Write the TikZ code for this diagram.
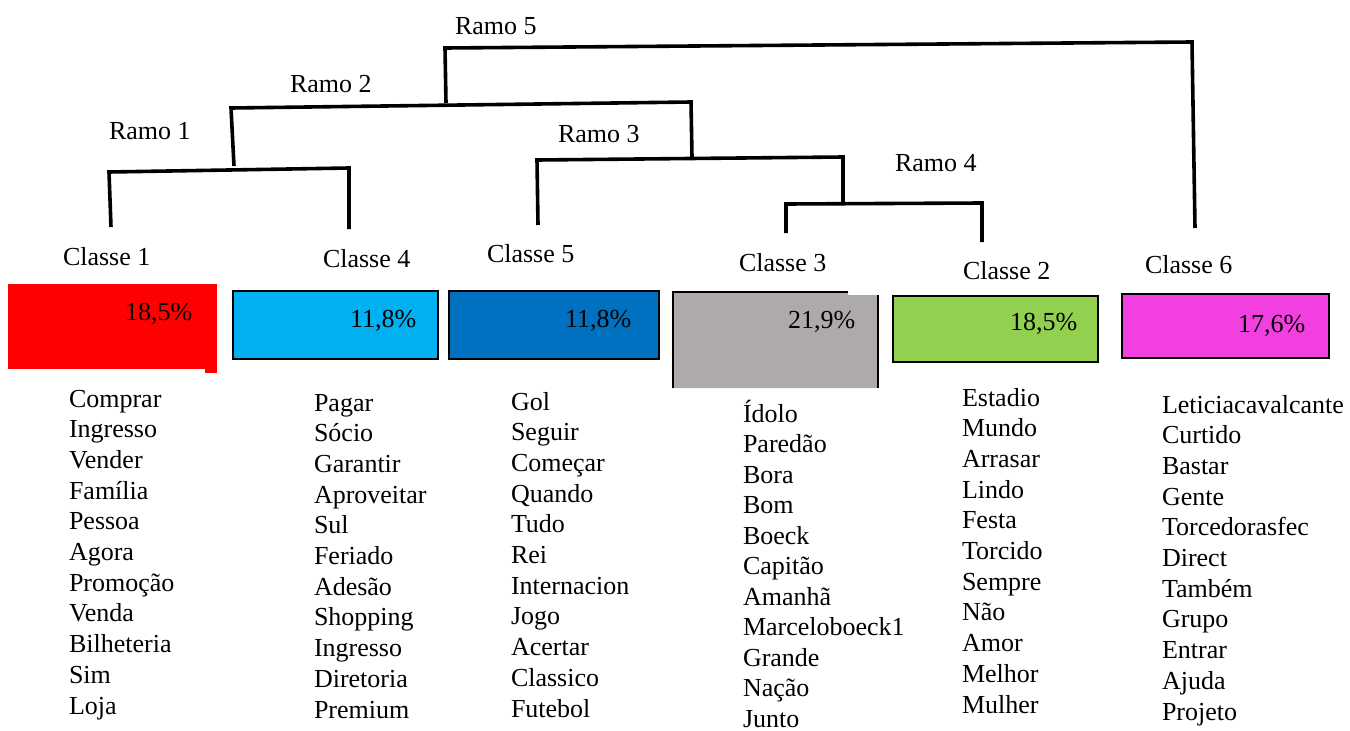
\documentclass[tikz,border=0pt]{standalone}
\usepackage{fontspec}
\setmainfont{Liberation Serif}
\definecolor{cred}{HTML}{FF0000}
\definecolor{ccyan}{HTML}{00B0F0}
\definecolor{cblue}{HTML}{0070C0}
\definecolor{cgray}{HTML}{AEAAAA}
\definecolor{cgreen}{HTML}{92D050}
\definecolor{cmag}{HTML}{F240E0}
\tikzset{
  ramo/.style={line width=3.6pt, line join=miter},
  txt/.style={anchor=base west, inner sep=0pt, outer sep=0pt, font=\fontsize{26}{30.7}\selectfont},
  box/.style={draw=black, line width=1.6pt, inner sep=0pt, outer sep=0pt, anchor=north west},
}
\begin{document}
\begin{tikzpicture}[x=1pt,y=-1pt]
\useasboundingbox (0,0) rectangle (1350,731);
% dendrogram coordinates
\coordinate (r5a) at (446,103); \coordinate (r5b) at (445,48);
\coordinate (r5c) at (1192,42); \coordinate (r5d) at (1195,228);
\coordinate (r2a) at (234,166); \coordinate (r2b) at (231,108);
\coordinate (r2c) at (691,102); \coordinate (r2d) at (692,157);
\coordinate (r1a) at (111,227); \coordinate (r1b) at (109,172);
\coordinate (r1c) at (349,168); \coordinate (r1d) at (349,229);
\coordinate (r3a) at (538,225); \coordinate (r3b) at (537,160);
\coordinate (r3c) at (843,157); \coordinate (r3d) at (843,203);
\coordinate (r4a) at (786,233); \coordinate (r4b) at (786,204);
\coordinate (r4c) at (982,203); \coordinate (r4d) at (982,242);
\draw[ramo] (r5a) -- (r5b) -- (r5c) -- (r5d);
\draw[ramo] (r2a) -- (r2b) -- (r2c) -- (r2d);
\draw[ramo] (r1a) -- (r1b) -- (r1c) -- (r1d);
\draw[ramo] (r3a) -- (r3b) -- (r3c) -- (r3d);
\draw[ramo] (r4a) -- (r4b) -- (r4c) -- (r4d);
% branch labels
\node[txt] (l5) at (455,34) {Ramo 5};
\node[txt] (l2) at (290,92) {Ramo 2};
\node[txt] (l1) at (109,139) {Ramo 1};
\node[txt] (l3) at (558,142) {Ramo 3};
\node[txt] (l4) at (895,171) {Ramo 4};
% class labels
\node[txt] (k1) at (63,265) {Classe 1};
\node[txt] (k4) at (323,267) {Classe 4};
\node[txt] (k5) at (487,262) {Classe 5};
\node[txt] (k3) at (739,271) {Classe 3};
\node[txt] (k2) at (963,279) {Classe 2};
\node[txt] (k6) at (1145,273) {Classe 6};
% boxes
\fill[cred] (8,284) rectangle (217,369);
\fill[cred] (205,368) rectangle (217,373);
\node[box, fill=ccyan, minimum width=205pt, minimum height=68pt] (b4) at (233,291) {};
\node[box, fill=cblue, minimum width=210pt, minimum height=68pt] (b5) at (449,291) {};
\fill[cgray] (673,292) -- (848,292) -- (848,295) -- (878,295) -- (878,388) -- (673,388) -- cycle;
\draw[line width=1.6pt] (673,388) -- (673,292) -- (848,292);
\draw[line width=1.6pt] (878,295) -- (878,388);
\node[box, fill=cgreen, minimum width=205pt, minimum height=66pt] (b2) at (893,296) {};
\node[box, fill=cmag, minimum width=207pt, minimum height=64pt] (b6) at (1122,294) {};
% percentages
\node[txt] (p1) at (125,320) {18,5\%};
\node[txt] (p4) at (350,327) {11,8\%};
\node[txt] (p5) at (565,327) {11,8\%};
\node[txt] (p3) at (788,328) {21,9\%};
\node[txt] (p2) at (1010,330) {18,5\%};
\node[txt] (p6) at (1238,332) {17,6\%};
% word lists
\foreach \w [count=\i] in {Comprar,Ingresso,Vender,Família,Pessoa,Agora,Promoção,Venda,Bilheteria,Sim,Loja}
  \node[txt] (a\i) at (69,{407+(\i-1)*30.7}) {\w};
\foreach \w [count=\i] in {Pagar,Sócio,Garantir,Aproveitar,Sul,Feriado,Adesão,Shopping,Ingresso,Diretoria,Premium}
  \node[txt] (d\i) at (314,{411+(\i-1)*30.7}) {\w};
\begin{scope}
\clip (440,380) rectangle (628,731);
\foreach \w [count=\i] in {Gol,Seguir,Começar,Quando,Tudo,Rei,Internacional,Jogo,Acertar,Classico,Futebol}
  \node[txt] (e\i) at (511,{410+(\i-1)*30.7}) {\w};
\end{scope}
\foreach \w [count=\i] in {Ídolo,Paredão,Bora,Bom,Boeck,Capitão,Amanhã,Marceloboeck1,Grande,Nação,Junto}
  \node[txt] (c\i) at (743,{422+(\i-1)*30.5}) {\w};
\foreach \w [count=\i] in {Estadio,Mundo,Arrasar,Lindo,Festa,Torcido,Sempre,Não,Amor,Melhor,Mulher}
  \node[txt] (b\i) at (962,{406+(\i-1)*30.7}) {\w};
\foreach \w [count=\i] in {Leticiacavalcante,Curtido,Bastar,Gente,Torcedorasfec,Direct,Também,Grupo,Entrar,Ajuda,Projeto}
  \node[txt] (f\i) at (1162,{413+(\i-1)*30.7}) {\w};
\end{tikzpicture}
\end{document}
